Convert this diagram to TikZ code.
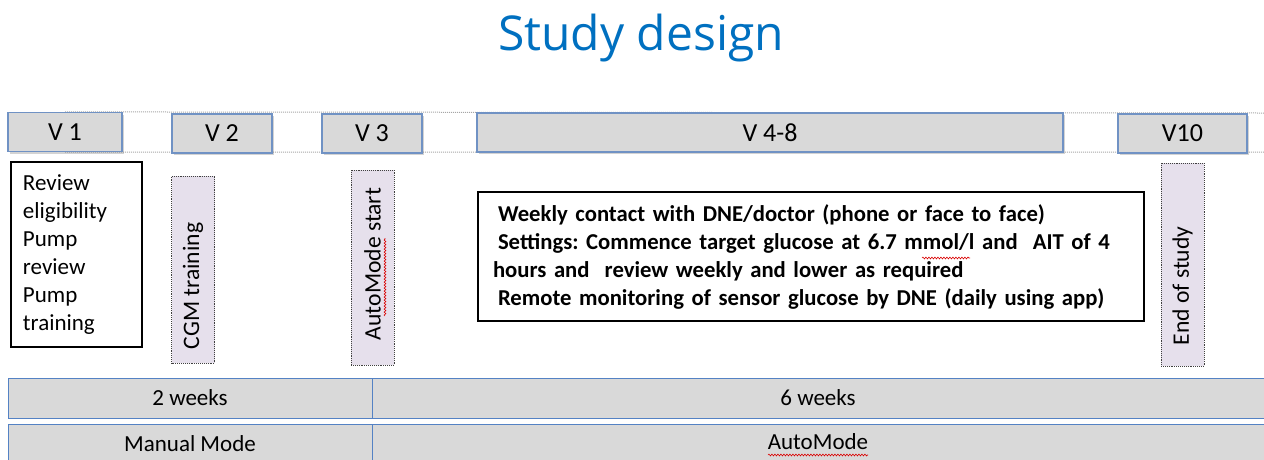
\documentclass[tikz,border=0pt]{standalone}
\usepackage{fontspec}
\setmainfont{Carlito}
\newfontfamily\titlefont{Open Sans}
\usepackage{tikz}
\usetikzlibrary{positioning,shadows,backgrounds,decorations.pathmorphing}

\definecolor{visitgray}{RGB}{217,217,217}
\definecolor{visitblue}{RGB}{112,146,196}
\definecolor{barblue}{RGB}{84,130,196}
\definecolor{lavender}{RGB}{230,224,236}
\definecolor{titleblue}{RGB}{0,112,192}

\begin{document}
\frenchspacing
\begin{tikzpicture}[x=1pt,y=-1pt]
	%defines
	\tikzstyle{visit} = [rectangle, fill=visitgray, draw=visitblue, line width=1.2pt, minimum height=39pt, text centered, font=\fontsize{26}{30}\selectfont, drop shadow={opacity=0.35, shadow xshift=1.5pt, shadow yshift=-2pt}]
	\tikzstyle{event} = [rectangle, fill=lavender, draw=black!75, densely dotted, line width=0.9pt, minimum width=43pt, font=\fontsize{23.6}{28}\selectfont]
	\tikzstyle{notes} = [rectangle, draw=black, line width=1.2pt, align=left]
	\tikzstyle{phase} = [rectangle, fill=visitgray, draw=barblue, line width=1pt, text centered, font=\fontsize{23}{27}\selectfont]
	\tikzstyle{guide} = [gray!70, densely dotted, line width=1pt]
	\tikzstyle{typo} = [red!85!black, line width=0.6pt, decorate, decoration={snake, amplitude=0.9pt, segment length=3pt}]
	\clip (0,0) rectangle (1264,459);
	%title
	\node (title) at (641,38) {\titlefont\fontsize{48}{56}\selectfont\color{titleblue}Study design};
	%visits
	\node (v1) [visit, minimum width=114pt] at (65,132) {V 1};
	\node (v2) [visit, minimum width=100pt] at (222,133.5) {V 2};
	\node (v3) [visit, minimum width=100pt] at (372,133.5) {V 3};
	\node (v4) [visit, minimum width=586pt] at (770,132.5) {V 4-8};
	\node (v10) [visit, minimum width=129pt] at (1182.5,133.5) {V10};
	\coordinate (edgetop) at (1264,113);
	\coordinate (edgebot) at (1264,152);
	\begin{scope}[on background layer]
		\draw [guide] (v1.north) -- (edgetop);
		\draw [guide] (v1.south) -- (edgebot);
	\end{scope}
	%what happens at each visit
	\node (review) [notes, minimum height=185pt, text width=107pt, inner xsep=12pt, font=\fontsize{23}{28}\selectfont] at (76.5,254.5) {Review\\eligibility\\Pump\\review\\Pump\\training};
	\node (cgm) [event, minimum height=187pt] at (193,269.5) {\rotatebox{90}{CGM training\hspace*{33pt}}};
	\node (amstart) [event, minimum height=195pt] at (372.5,267.5) {\rotatebox{90}{\hspace*{7pt}AutoMode start}};
	\node (weekly) [notes, minimum width=666pt, minimum height=129pt, text width=650pt, inner xsep=8pt, font=\bfseries\fontsize{22.7}{28}\selectfont] at (811,256.5) {\hspace*{12pt}Weekly contact with DNE/doctor (phone or face to face)\\\hspace*{12pt}Settings: Commence target glucose at 6.7 mmol/l and\ \ AIT of 4\\\hspace*{7pt}hours and\ \ review weekly and lower as required\\\hspace*{12pt}Remote monitoring of sensor glucose by DNE (daily using app)};
	\node (eos) [event, minimum height=203pt] at (1182.5,264.5) {\rotatebox{90}{End of study\hspace*{43pt}}};
	%timeline bars
	\node (twoweeks) [phase, minimum width=364pt, minimum height=40pt] at (190,398) {2 weeks};
	\node (sixweeks) [phase, minimum width=900pt, minimum height=40pt, anchor=west] at (372,398) {};
	\node (sixlabel) [font=\fontsize{23}{27}\selectfont] at (818,398) {6 weeks};
	\node (manual) [phase, minimum width=364pt, minimum height=40pt] at (190,444) {Manual Mode};
	\node (automode) [phase, minimum width=900pt, minimum height=40pt, anchor=west] at (372,444) {};
	\node (autolabel) [font=\fontsize{23}{27}\selectfont] at (818,442) {AutoMode};
	%spelling marks
	\draw [typo] (922,258) -- (970,258);
	\draw [typo] (385,316) -- (385,238);
	\draw [typo] (768,455) -- (868,455);
\end{tikzpicture}
\end{document}
